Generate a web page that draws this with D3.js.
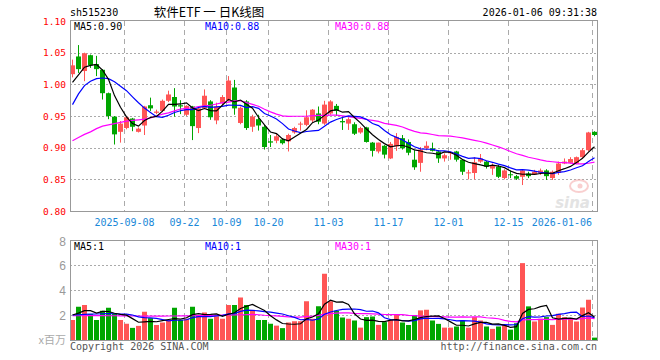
<!DOCTYPE html>
<html><head><meta charset="utf-8">
<script src="https://cdn.jsdelivr.net/npm/d3@7/dist/d3.min.js"></script>
<style>body{margin:0;background:#fff}svg{display:block}</style>
</head><body><svg id="c" width="660" height="360"></svg>
<script>
// ---------- data ----------
const dates = [
 "2025-08-26","2025-08-27","2025-08-28","2025-08-29","2025-09-01","2025-09-02","2025-09-03","2025-09-04","2025-09-05",
 "2025-09-08","2025-09-09","2025-09-10","2025-09-11","2025-09-12",
 "2025-09-15","2025-09-16","2025-09-17","2025-09-18","2025-09-19",
 "2025-09-22","2025-09-23","2025-09-24","2025-09-25","2025-09-26",
 "2025-09-29","2025-09-30","2025-10-09","2025-10-10",
 "2025-10-13","2025-10-14","2025-10-15","2025-10-16","2025-10-17",
 "2025-10-20","2025-10-21","2025-10-22","2025-10-23","2025-10-24",
 "2025-10-27","2025-10-28","2025-10-29","2025-10-30","2025-10-31",
 "2025-11-03","2025-11-04","2025-11-05","2025-11-06","2025-11-07",
 "2025-11-10","2025-11-11","2025-11-12","2025-11-13","2025-11-14",
 "2025-11-17","2025-11-18","2025-11-19","2025-11-20","2025-11-21",
 "2025-11-24","2025-11-25","2025-11-26","2025-11-27","2025-11-28",
 "2025-12-01","2025-12-02","2025-12-03","2025-12-04","2025-12-05",
 "2025-12-08","2025-12-09","2025-12-10","2025-12-11","2025-12-12",
 "2025-12-15","2025-12-16","2025-12-17","2025-12-18","2025-12-19",
 "2025-12-22","2025-12-23","2025-12-24","2025-12-25","2025-12-26",
 "2025-12-29","2025-12-30","2025-12-31","2026-01-05","2026-01-06"
];
const open = [1.016,1.044,1.021,1.046,1.032,1.023,0.986,0.949,0.925,0.931,
 0.946,0.925,0.935,0.967,0.955,0.958,0.974,0.980,0.967,0.952,
 0.965,0.931,0.962,0.973,0.943,0.970,0.975,0.995,0.939,0.973,
 0.933,0.945,0.933,0.910,0.911,0.913,0.910,0.924,0.937,0.936,
 0.943,0.954,0.938,0.954,0.966,0.942,0.938,0.937,0.924,0.932,
 0.908,0.894,0.903,0.883,0.902,0.915,0.909,0.881,0.876,0.899,
 0.899,0.894,0.883,0.891,0.894,0.881,0.860,0.860,0.878,0.878,
 0.867,0.870,0.852,0.858,0.855,0.854,0.859,0.858,0.860,0.864,
 0.852,0.860,0.875,0.876,0.875,0.885,0.896,0.925];
const high = [1.039,1.062,1.050,1.047,1.045,1.024,0.987,0.950,0.942,0.950,
 0.947,0.932,0.966,0.979,0.960,0.976,0.990,0.994,0.975,0.967,
 0.966,0.965,0.992,0.975,0.971,0.983,1.013,1.007,0.965,0.975,
 0.952,0.952,0.936,0.920,0.922,0.915,0.922,0.933,0.941,0.959,
 0.961,0.965,0.974,0.975,0.969,0.949,0.948,0.940,0.933,0.933,
 0.909,0.908,0.904,0.909,0.923,0.920,0.913,0.896,0.901,0.910,
 0.908,0.896,0.891,0.894,0.895,0.882,0.865,0.885,0.890,0.879,
 0.875,0.873,0.866,0.864,0.857,0.866,0.862,0.865,0.867,0.866,
 0.864,0.878,0.883,0.885,0.886,0.899,0.925,0.926];
const low = [1.011,1.018,1.005,1.026,1.013,0.976,0.945,0.905,0.908,0.929,
 0.926,0.924,0.920,0.958,0.953,0.956,0.972,0.949,0.953,0.950,
 0.912,0.923,0.962,0.944,0.937,0.967,0.973,0.952,0.937,0.928,
 0.925,0.927,0.897,0.901,0.907,0.905,0.894,0.922,0.927,0.934,
 0.940,0.937,0.936,0.952,0.950,0.928,0.928,0.920,0.922,0.908,
 0.886,0.891,0.883,0.882,0.895,0.897,0.888,0.865,0.862,0.896,
 0.894,0.876,0.878,0.881,0.878,0.857,0.850,0.850,0.876,0.867,
 0.857,0.852,0.850,0.852,0.849,0.841,0.852,0.857,0.857,0.849,
 0.849,0.857,0.874,0.875,0.874,0.883,0.894,0.918];
const close = [1.030,1.024,1.049,1.030,1.024,0.986,0.950,0.921,0.938,0.948,
 0.933,0.930,0.965,0.962,0.957,0.974,0.984,0.965,0.965,0.966,
 0.934,0.962,0.982,0.948,0.965,0.980,1.006,0.962,0.963,0.931,
 0.949,0.935,0.901,0.908,0.918,0.907,0.920,0.931,0.938,0.948,
 0.960,0.941,0.968,0.973,0.958,0.940,0.945,0.922,0.931,0.909,
 0.895,0.908,0.889,0.906,0.917,0.899,0.892,0.869,0.897,0.903,
 0.895,0.883,0.888,0.893,0.881,0.862,0.861,0.877,0.883,0.870,
 0.871,0.854,0.864,0.857,0.851,0.864,0.855,0.862,0.864,0.855,
 0.862,0.875,0.878,0.882,0.885,0.896,0.924,0.920];
// volume, millions
const volume = [1.6,2.66,2.8,2.07,1.6,2.34,2.58,2.1,1.6,1.3,
 0.97,1.13,2.26,1.75,1.2,1.4,1.6,2.58,1.6,1.7,
 2.66,2.0,2.2,1.7,1.9,1.7,2.8,2.8,3.4,2.8,
 2.4,1.6,1.6,1.3,1.15,0.95,1.4,1.5,1.5,3.1,
 1.7,2.7,5.3,3.1,2.34,1.8,1.7,1.56,0.99,1.83,
 1.88,1.21,1.43,1.6,2.0,1.4,1.2,2.0,2.37,2.42,
 1.56,1.29,0.99,0.99,1.08,1.56,0.99,1.83,1.56,1.08,
 0.89,1.08,1.21,0.83,1.34,6.15,2.69,1.48,1.7,1.83,
 1.21,2.1,1.83,1.75,1.48,2.6,3.22,0.19];
// moving-average values before a full window exists
const ma5Lead = [1.003,1.015,1.027,1.030];
const ma10Lead = [0.968,0.985,0.998,1.005,1.009,1.010,1.009,1.004,0.997];
const ma30Lead = [0.911,0.916,0.921,0.925,0.930,0.934,0.936,0.938,0.940,0.942,
 0.943,0.944,0.945,0.947,0.950,0.953,0.955,0.958,0.961,0.962,
 0.963,0.965,0.966,0.967,0.969,0.971,0.972,0.974,0.974];
const volMa5Lead = [2.0,2.15,2.35,2.35];
const volMa10Lead = [2.0,2.02,2.05,2.07,2.08,2.1,2.12,2.1,2.08];
const volMa30Lead = [1.94,1.94,1.95,1.95,1.95,1.95,1.94,1.94,1.93,1.93,
 1.92,1.92,1.91,1.91,1.91,1.91,1.92,1.92,1.93,1.93,
 1.94,1.95,1.96,1.97,1.98,1.99,2.0,2.01,2.02];
const tickDates = ["2025-09-08","2025-09-22","2025-10-09","2025-10-20","2025-11-03","2025-11-17","2025-12-01","2025-12-15","2026-01-06"];
const tickLabels = ["2025-09-08","09-22","10-09","10-20","11-03","11-17","12-01","12-15","2026-01-06"];
const priceTicks = [0.80,0.85,0.90,0.95,1.00,1.05,1.10];
const volTicks = [2,4,6,8];

// ---------- helpers ----------
function movingAvg(arr, n, lead){
  return arr.map((v,i)=> i < n-1 ? lead[i] : d3.mean(arr.slice(i-n+1, i+1)));
}
const MONO = "'DejaVu Sans Mono', monospace";
const UP = "#ff5555", DOWN = "#00a600";
const GRID = "#aaaaaa", BORDER = "#999999";

const svg = d3.select("#c");
const L = 70, R = 598;
const x = d3.scaleBand().domain(dates).range([L, R]).paddingInner(0).paddingOuter(0);
const bw = 5;
const cx = d => x(d) + 2.5;
const y = d3.scaleLinear().domain([0.80, 1.10]).range([211, 21]);
const vy = d3.scaleLinear().domain([0, 8]).range([340, 240]);

// ---------- main panel grid ----------
const gMain = svg.append("g");
gMain.selectAll("line.h").data(priceTicks.slice(1, -1)).join("line")
  .attr("x1", L).attr("x2", 597).attr("y1", d=>Math.round(y(d))+0.5).attr("y2", d=>Math.round(y(d))+0.5)
  .attr("stroke", GRID).attr("stroke-dasharray", "2,2");
gMain.selectAll("line.v").data(tickDates).join("line")
  .attr("x1", d=>x(d)+0.5).attr("x2", d=>x(d)+0.5).attr("y1", 21).attr("y2", 211)
  .attr("stroke", GRID).attr("stroke-dasharray", "5,4");

// sina watermark
const wm = svg.append("g").attr("opacity", 0.5);
wm.append("ellipse").attr("cx", 579).attr("cy", 186).attr("rx", 9).attr("ry", 6)
  .attr("fill", "none").attr("stroke", "#f4a0a0").attr("stroke-width", 2);
wm.append("circle").attr("cx", 580).attr("cy", 186).attr("r", 2.5).attr("fill", "#f4a0a0");
wm.append("text").attr("x", 590).attr("y", 208).attr("text-anchor", "end")
  .attr("font-family", "'DejaVu Sans', sans-serif").attr("font-style", "italic").attr("font-weight", "bold")
  .attr("font-size", 15).attr("fill", "#c8c8c8").text("sina");

// ---------- candles ----------
const idx = d3.range(dates.length);
const gC = svg.append("g");
gC.selectAll("rect.w").data(idx).join("rect")
  .attr("x", i=>x(dates[i])+2).attr("width", 1)
  .attr("y", i=>y(high[i])).attr("height", i=>Math.max(1, y(low[i])-y(high[i])))
  .attr("fill", i=> close[i] >= open[i] ? UP : DOWN);
gC.selectAll("rect.b").data(idx).join("rect")
  .attr("x", i=>x(dates[i])).attr("width", bw)
  .attr("y", i=>y(Math.max(open[i], close[i])))
  .attr("height", i=>Math.max(1, Math.abs(y(open[i])-y(close[i]))))
  .attr("fill", i=> close[i] >= open[i] ? UP : DOWN);

// ---------- MA lines ----------
const ma5 = movingAvg(close, 5, ma5Lead), ma10 = movingAvg(close, 10, ma10Lead), ma30 = movingAvg(close, 30, ma30Lead);
const line = d3.line().x((d,i)=>cx(dates[i])).y(d=>y(d));
[[ma30,"#ff00ff"],[ma10,"#0000ff"],[ma5,"#000000"]].forEach(([a,c])=>{
  svg.append("path").attr("d", line(a)).attr("fill","none").attr("stroke",c).attr("stroke-width",1.2);
});

// main border
svg.append("rect").attr("x", 70.5).attr("y", 20.5).attr("width", 527).attr("height", 191)
  .attr("fill","none").attr("stroke", BORDER);

// price labels
svg.selectAll("text.p").data(priceTicks).join("text")
  .attr("x", 66).attr("y", d=>y(d)+3.5).attr("text-anchor","end")
  .attr("font-family", MONO).attr("font-size", 9.5).attr("fill", "#ff0000")
  .text(d=>d.toFixed(2));

// x labels
svg.selectAll("text.x").data(tickDates).join("text")
  .attr("x", (d,i)=> i === tickDates.length-1 ? x(d) : x(d)+0.5)
  .attr("y", 226)
  .attr("text-anchor", (d,i)=> i === tickDates.length-1 ? "end" : "middle")
  .attr("font-family", MONO).attr("font-size", 10).attr("fill", "#1a88d8")
  .text((d,i)=>tickLabels[i]);

// header
svg.append("text").attr("x", 70).attr("y", 16).attr("font-family", MONO).attr("font-size", 10).attr("fill","#000").text("sh515230");
svg.append("text").attr("x", 209).attr("y", 16.5).attr("text-anchor","middle")
  .attr("font-family", "'Noto Sans CJK SC', sans-serif").attr("font-size", 12.5).attr("fill","#000").text("软件ETF 一 日K线图");
svg.append("text").attr("x", 597).attr("y", 16).attr("text-anchor","end").attr("font-family", MONO).attr("font-size", 10).attr("fill","#000").text("2026-01-06 09:31:38");

// MA legends main
const fmt2 = d3.format(".2f");
svg.append("text").attr("x", 74).attr("y", 30).attr("font-family", MONO).attr("font-size", 10).attr("fill","#000").text("MA5:" + fmt2(ma5[ma5.length-1]));
svg.append("text").attr("x", 205).attr("y", 30).attr("font-family", MONO).attr("font-size", 10).attr("fill","#0000ff").text("MA10:" + fmt2(ma10[ma10.length-1]));
svg.append("text").attr("x", 335).attr("y", 30).attr("font-family", MONO).attr("font-size", 10).attr("fill","#ff00ff").text("MA30:" + fmt2(ma30[ma30.length-1]));

// ---------- volume panel ----------
const gV = svg.append("g");
gV.selectAll("line.h").data(volTicks.slice(0, -1)).join("line")
  .attr("x1", L).attr("x2", 597).attr("y1", d=>Math.round(vy(d))+0.5).attr("y2", d=>Math.round(vy(d))+0.5)
  .attr("stroke", GRID).attr("stroke-dasharray", "2,2");
gV.selectAll("line.v").data(tickDates).join("line")
  .attr("x1", d=>x(d)+0.5).attr("x2", d=>x(d)+0.5).attr("y1", 241).attr("y2", 340)
  .attr("stroke", GRID).attr("stroke-dasharray", "5,4");
gV.selectAll("rect.v").data(idx).join("rect")
  .attr("x", i=>x(dates[i])).attr("width", bw)
  .attr("y", i=>vy(volume[i])).attr("height", i=>vy(0)-vy(volume[i]))
  .attr("fill", i=> close[i] >= open[i] ? UP : DOWN);

const vma5 = movingAvg(volume, 5, volMa5Lead), vma10 = movingAvg(volume, 10, volMa10Lead), vma30 = movingAvg(volume, 30, volMa30Lead);
const vline = d3.line().x((d,i)=>cx(dates[i])).y(d=>vy(d));
[[vma30,"#ff00ff"],[vma10,"#0000ff"],[vma5,"#000000"]].forEach(([a,c])=>{
  svg.append("path").attr("d", vline(a)).attr("fill","none").attr("stroke",c).attr("stroke-width",1.2);
});

svg.append("rect").attr("x", 70.5).attr("y", 240.5).attr("width", 527).attr("height", 100)
  .attr("fill","none").attr("stroke", BORDER);

svg.selectAll("text.vt").data(volTicks).join("text")
  .attr("x", 66).attr("y", d=>vy(d)+ (d===8 ? 6 : 4.5)).attr("text-anchor","end")
  .attr("font-family", "'Liberation Sans', Arial, sans-serif").attr("font-size", 12).attr("fill", "#999")
  .text(d=>d);
svg.append("text").attr("x", 66).attr("y", 344).attr("text-anchor","end")
  .attr("font-family", "'Noto Sans CJK SC', sans-serif").attr("font-size", 11).attr("fill","#aaa").text("x百万");

const fmt0 = d3.format(".0f");
svg.append("text").attr("x", 74).attr("y", 250).attr("font-family", MONO).attr("font-size", 10).attr("fill","#000").text("MA5:" + Math.floor(vma5[vma5.length-1]));
svg.append("text").attr("x", 205).attr("y", 250).attr("font-family", MONO).attr("font-size", 10).attr("fill","#0000ff").text("MA10:" + Math.floor(vma10[vma10.length-1]));
svg.append("text").attr("x", 335).attr("y", 250).attr("font-family", MONO).attr("font-size", 10).attr("fill","#ff00ff").text("MA30:" + Math.floor(vma30[vma30.length-1]));

// footer
svg.append("text").attr("x", 70).attr("y", 350).attr("font-family", MONO).attr("font-size", 10).attr("fill","#555").text("Copyright 2026 SINA.COM");
svg.append("text").attr("x", 597).attr("y", 350).attr("text-anchor","end").attr("font-family", MONO).attr("font-size", 10).attr("fill","#555").text("http://finance.sina.com.cn");
</script>
</body></html>
